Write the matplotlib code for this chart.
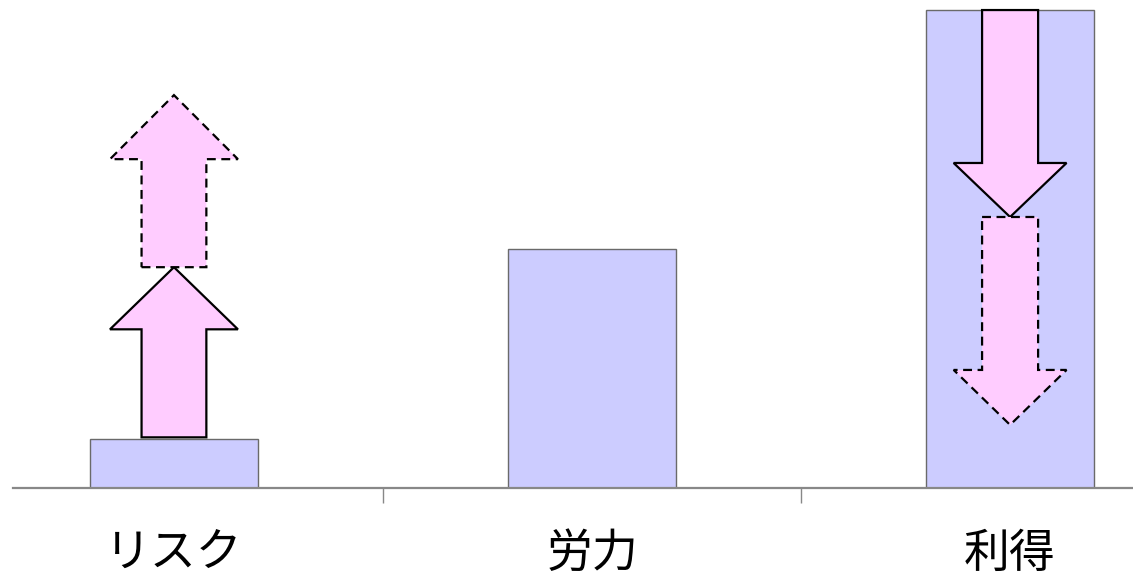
import matplotlib
matplotlib.use("Agg")
import matplotlib.pyplot as plt
from matplotlib.patches import Polygon

plt.rcParams['font.family'] = ['Noto Sans CJK JP', 'DejaVu Sans']

# ---- data ----
categories = ['リスク', '労力', '利得']
values = [10.25, 50, 100]

# arrows: category index, start value, end value, dashed?
arrow_cat = [0, 0, 2, 2]
arrow_start = [10.6, 46.2, 100.0, 56.7]
arrow_end = [46.2, 82.2, 56.7, 13.2]
arrow_dashed = [False, True, False, True]

# ---- style ----
arrow_shaft_w = [0.155, 0.155, 0.134, 0.134]
arrow_head_w = [0.306, 0.306, 0.270, 0.270]
arrow_head_len = [13.0, 13.4, 11.3, 11.5]

fig = plt.figure(figsize=(11.33, 5.79), dpi=100)
ax = fig.add_axes([13 / 1133, 1 - 488 / 579, 1 - 13 / 1133, 488 / 579])

x = list(range(len(categories)))
ax.bar(x, values, width=0.4, color='#CCCCFF', edgecolor='#6a6a6a', linewidth=1.0, zorder=2)

for c, y0, y1, dashed, w, hw, hl in zip(arrow_cat, arrow_start, arrow_end, arrow_dashed,
                                         arrow_shaft_w, arrow_head_w, arrow_head_len):
    s = 1 if y1 > y0 else -1
    base = y1 - s * hl
    pts = [(c - w / 2, y0), (c + w / 2, y0), (c + w / 2, base), (c + hw / 2, base),
           (c, y1), (c - hw / 2, base), (c - w / 2, base)]
    poly = Polygon(pts, closed=True, facecolor='#FFCCFF', edgecolor='black',
                   linewidth=1.6, linestyle=(0, (4, 2.5)) if dashed else '-',
                   joinstyle='miter', zorder=3)
    ax.add_patch(poly)

ax.set_xlim(-0.385, 2.294)
ax.set_ylim(0, 102.1)

for side in ['top', 'right', 'left']:
    ax.spines[side].set_visible(False)
ax.spines['bottom'].set_color('#888888')
ax.spines['bottom'].set_linewidth(1.6)
ax.spines['bottom'].set_zorder(4)

ax.set_yticks([])
ax.set_xticks(x)
ax.set_xticklabels(categories, fontsize=33)
ax.tick_params(axis='x', which='major', length=0, pad=30)
ax.set_xticks([0.5, 1.5], minor=True)
ax.tick_params(axis='x', which='minor', length=11, width=1.0, color='#888888', direction='out')

fig.savefig('out.png', dpi=100)
